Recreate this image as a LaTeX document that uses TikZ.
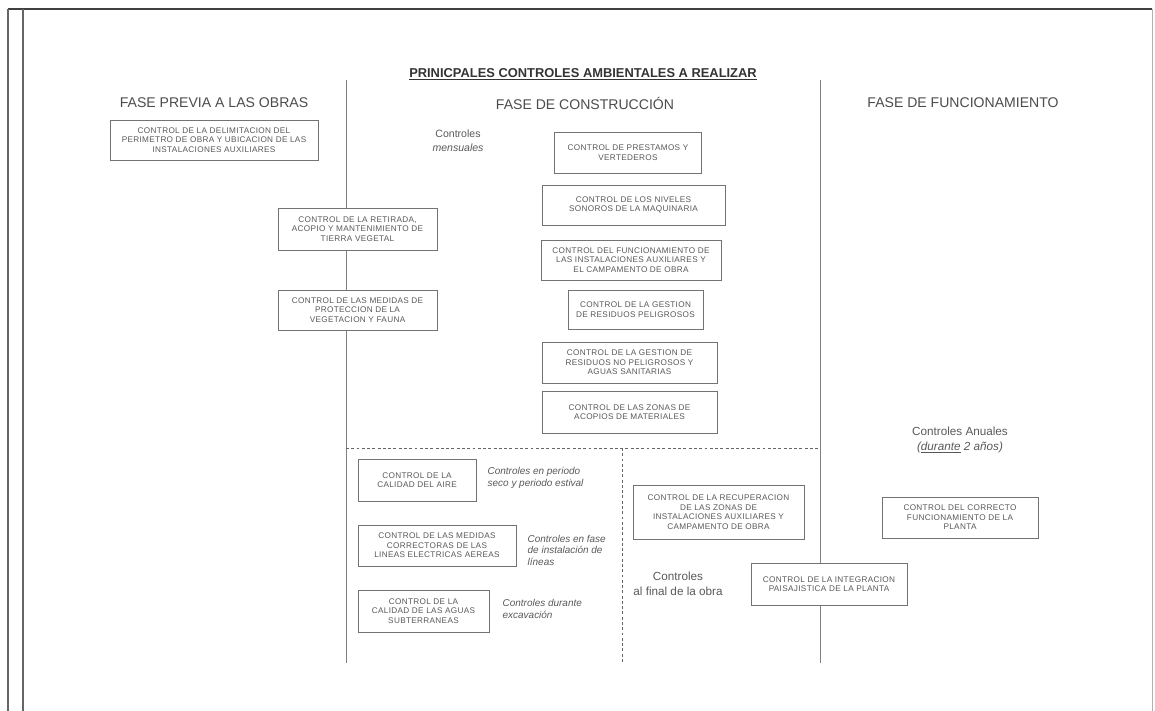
\documentclass[tikz,border=0pt]{standalone}
\usepackage{fontspec}
\setmainfont{Liberation Sans}
\newfontfamily\cajafont[LetterSpace=4]{Liberation Sans}
\usetikzlibrary{positioning}

\tikzset{
  sz/.style 2 args={minimum width=#1*0.03cm, minimum height=#2*0.03cm}
}

\begin{document}
\begin{tikzpicture}[x=0.03cm, y=-0.03cm, line width=0.6pt]
    \tikzstyle{ctrl}=[draw=black!55, fill=white, text=black!65, align=center, inner sep=1pt, font=\cajafont\fontsize{7}{8.1}\selectfont]
    \tikzstyle{fase}=[text=black!70, font=\fontsize{12}{14}\selectfont]
    \tikzstyle{nota}=[text=black!65, align=left, inner sep=0pt, font=\fontsize{8.5}{10}\selectfont\itshape]
    \tikzstyle{etiq}=[text=black!65, align=center, inner sep=0pt, font=\fontsize{10}{13}\selectfont]
    \tikzstyle{divisor}=[draw=black!50, line width=0.8pt]
    \tikzstyle{corte}=[draw=black!60, line width=0.8pt, dash pattern=on 2.5pt off 2pt]

    \useasboundingbox (0,0) rectangle (1155,711);

    % marco de la hoja
    \coordinate (mTL) at (8,9);
    \coordinate (mTR) at (1152,9);
    \draw[black!75, line width=1.4pt] (mTL) -- (mTR);
    \draw[black!60, line width=0.9pt] (mTL) -- (8,711);
    \draw[black!60, line width=0.9pt] (23,9) -- (23,711);
    \draw[black!30, line width=0.6pt] (mTR) -- (1152,711);

    \node[text=black!80, font=\fontsize{11}{13}\selectfont\bfseries] (titulo) at (583,74) {\underline{PRINICPALES CONTROLES AMBIENTALES A REALIZAR}};

    % divisiones entre fases
    \coordinate (d1a) at (346,80);  \coordinate (d1b) at (346,663);
    \coordinate (d2a) at (820,80);  \coordinate (d2b) at (820,663);
    \coordinate (c1a) at (346,448); \coordinate (c1b) at (820,448);
    \coordinate (c2a) at (622,448); \coordinate (c2b) at (622,663);
    \draw[divisor] (d1a) -- (d1b);
    \draw[divisor] (d2a) -- (d2b);
    \draw[corte] (c1a) -- (c1b);
    \draw[corte] (c2a) -- (c2b);

    \node[fase] (previa) at (214,103) {FASE PREVIA A LAS OBRAS};
    \node[fase] (constr) at (585,103) {FASE DE CONSTRUCCIÓN};
    \node[fase] (funcio) at (963,103) {FASE DE FUNCIONAMIENTO};

    % fase previa
    \node[ctrl, sz={208}{40}] (delim) at (214,140) {CONTROL DE LA DELIMITACION DEL\\PERIMETRO DE OBRA Y UBICACION DE LAS\\INSTALACIONES AUXILIARES};
    \node[ctrl, sz={159}{42}] (retir) at (357.5,229) {CONTROL DE LA RETIRADA,\\ACOPIO Y MANTENIMIENTO DE\\TIERRA VEGETAL};
    \node[ctrl, sz={159}{40}] (prote) at (357.5,310) {CONTROL DE LAS MEDIDAS DE\\PROTECCION DE LA\\VEGETACION Y FAUNA};

    % fase de construccion
    \node[etiq, font=\fontsize{9}{12}\selectfont] (mensual) at (458,141) {Controles\\\textit{mensuales}};
    \node[ctrl, sz={147}{41}] (prest) at (628,152.5) {CONTROL DE PRESTAMOS Y\\VERTEDEROS};
    \node[ctrl, sz={183}{40}] (ruido) at (633.5,205) {CONTROL DE LOS NIVELES\\SONOROS DE LA MAQUINARIA};
    \node[ctrl, sz={180}{40}] (insta) at (631,260) {CONTROL DEL FUNCIONAMIENTO DE\\LAS INSTALACIONES AUXILIARES Y\\EL CAMPAMENTO DE OBRA};
    \node[ctrl, sz={135}{39}] (peli) at (635.5,309.5) {CONTROL DE LA GESTION\\DE RESIDUOS PELIGROSOS};
    \node[ctrl, sz={175}{41}] (nopeli) at (629.5,362.5) {CONTROL DE LA GESTION DE\\RESIDUOS NO PELIGROSOS Y\\AGUAS SANITARIAS};
    \node[ctrl, sz={175}{42}] (acopio) at (629.5,412) {CONTROL DE LAS ZONAS DE\\ACOPIOS DE MATERIALES};

    \node[ctrl, sz={118}{42}] (aire) at (417,480) {CONTROL DE LA\\CALIDAD DEL AIRE};
    \node[nota, right=0.33cm of aire, yshift=0.06cm] (naire) {Controles en periodo\\seco y periodo estival};
    \node[ctrl, sz={158}{41}] (lineas) at (437,545.5) {CONTROL DE LAS MEDIDAS\\CORRECTORAS DE LAS\\LINEAS ELECTRICAS AEREAS};
    \node[nota, right=0.33cm of lineas, yshift=-0.14cm] (nlineas) {Controles en fase\\de instalación de\\líneas};
    \node[ctrl, sz={131}{42}] (aguas) at (423.5,611) {CONTROL DE LA\\CALIDAD DE LAS AGUAS\\SUBTERRANEAS};
    \node[nota, right=0.39cm of aguas, yshift=0.06cm] (naguas) {Controles durante\\excavación};

    \node[ctrl, sz={171}{54}] (recup) at (718.5,512) {CONTROL DE LA RECUPERACION\\DE LAS ZONAS DE\\INSTALACIONES AUXILIARES Y\\CAMPAMENTO DE OBRA};
    \node[etiq] (final) at (678,584) {Controles\\al final de la obra};
    \node[ctrl, sz={156}{42}] (paisa) at (829,584) {CONTROL DE LA INTEGRACION\\PAISAJISTICA DE LA PLANTA};

    % fase de funcionamiento
    \node[etiq] (anual) at (960,440) {Controles Anuales\\\textit{(\underline{durante} 2 años)}};
    \node[ctrl, sz={156}{41}] (planta) at (960,517.5) {CONTROL DEL CORRECTO\\FUNCIONAMIENTO DE LA\\PLANTA};
\end{tikzpicture}
\end{document}
